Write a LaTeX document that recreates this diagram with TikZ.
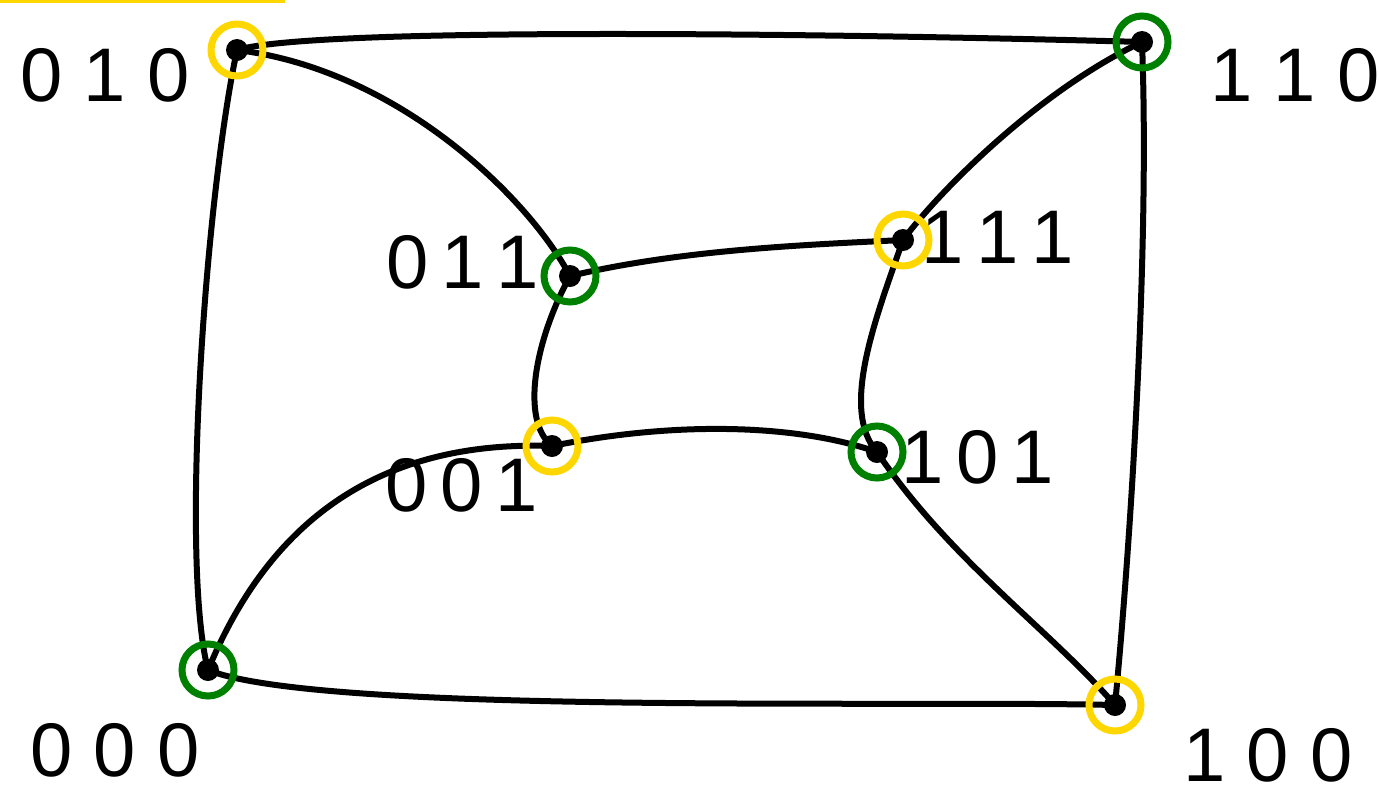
\documentclass[tikz,border=0pt]{standalone}
\usepackage{fontspec}
\setmainfont{Liberation Sans}
\definecolor{ycolor}{HTML}{FFD700}
\definecolor{gcolor}{HTML}{008000}

\begin{document}
\begin{tikzpicture}[x=1pt, y=-1pt,
    edge/.style={line width=6pt, line cap=round, line join=round},
    vtx/.style={circle, draw=#1, line width=7pt, minimum size=52pt, inner sep=0pt,
      path picture={\fill[black] (path picture bounding box.center) circle (11pt);}},
    lbl/.style={font=\fontsize{76}{84}\selectfont},
  ]
    \useasboundingbox (0,0) rectangle (1379,796);
    \draw[ycolor, line width=7pt] (0,-1) -- (285,-1);

    % corners of the cube
    \coordinate (c010) at (237,50);
    \coordinate (c110) at (1142,42);
    \coordinate (c011) at (570,276);
    \coordinate (c111) at (903,240);
    \coordinate (c001) at (552,446);
    \coordinate (c101) at (877,452);
    \coordinate (c000) at (208,670);
    \coordinate (c100) at (1115,705);

    % outer square
    \draw[edge] (c010) .. controls (320,25) and (900,35) .. (c110);
    \draw[edge] (c010) .. controls (205,200) and (180,560) .. (c000);
    \draw[edge] (c110) .. controls (1150,250) and (1130,550) .. (c100);
    \draw[edge] (c000) .. controls (320,715) and (900,700) .. (c100);
    % inner square
    \draw[edge] (c011) .. controls (680,250) and (800,245) .. (c111);
    \draw[edge] (c011) .. controls (535,340) and (520,420) .. (c001);
    \draw[edge] (c111) .. controls (875,320) and (840,410) .. (c101);
    \draw[edge] (c001) .. controls (680,420) and (800,425) .. (c101);
    % spokes
    \draw[edge] (c010) .. controls (400,70) and (530,200) .. (c011);
    \draw[edge] (c110) .. controls (1040,90) and (940,190) .. (c111);
    \draw[edge] (c001) .. controls (380,440) and (270,520) .. (c000);
    \draw[edge] (c101) .. controls (950,560) and (1050,630) .. (c100);

    \node[vtx=ycolor] (v010) at (c010) {};
    \node[vtx=gcolor] (v110) at (c110) {};
    \node[vtx=gcolor] (v011) at (c011) {};
    \node[vtx=ycolor] (v111) at (c111) {};
    \node[vtx=ycolor] (v001) at (c001) {};
    \node[vtx=gcolor] (v101) at (c101) {};
    \node[vtx=gcolor] (v000) at (c000) {};
    \node[vtx=ycolor] (v100) at (c100) {};

    \node[lbl] (l010) at (105,75) {0 1 0};
    \node[lbl] (l110) at (1295,75) {1 1 0};
    \node[lbl] (l011) at (463,262) {0\,1\,1};
    \node[lbl] (l111) at (998,237) {1\,1\,1};
    \node[lbl] (l001) at (462,485) {0\,0\,1};
    \node[lbl] (l101) at (978,457) {1\,0\,1};
    \node[lbl] (l000) at (115,750) {0 0 0};
    \node[lbl] (l100) at (1268,755) {1 0 0};
  \end{tikzpicture}
\end{document}
